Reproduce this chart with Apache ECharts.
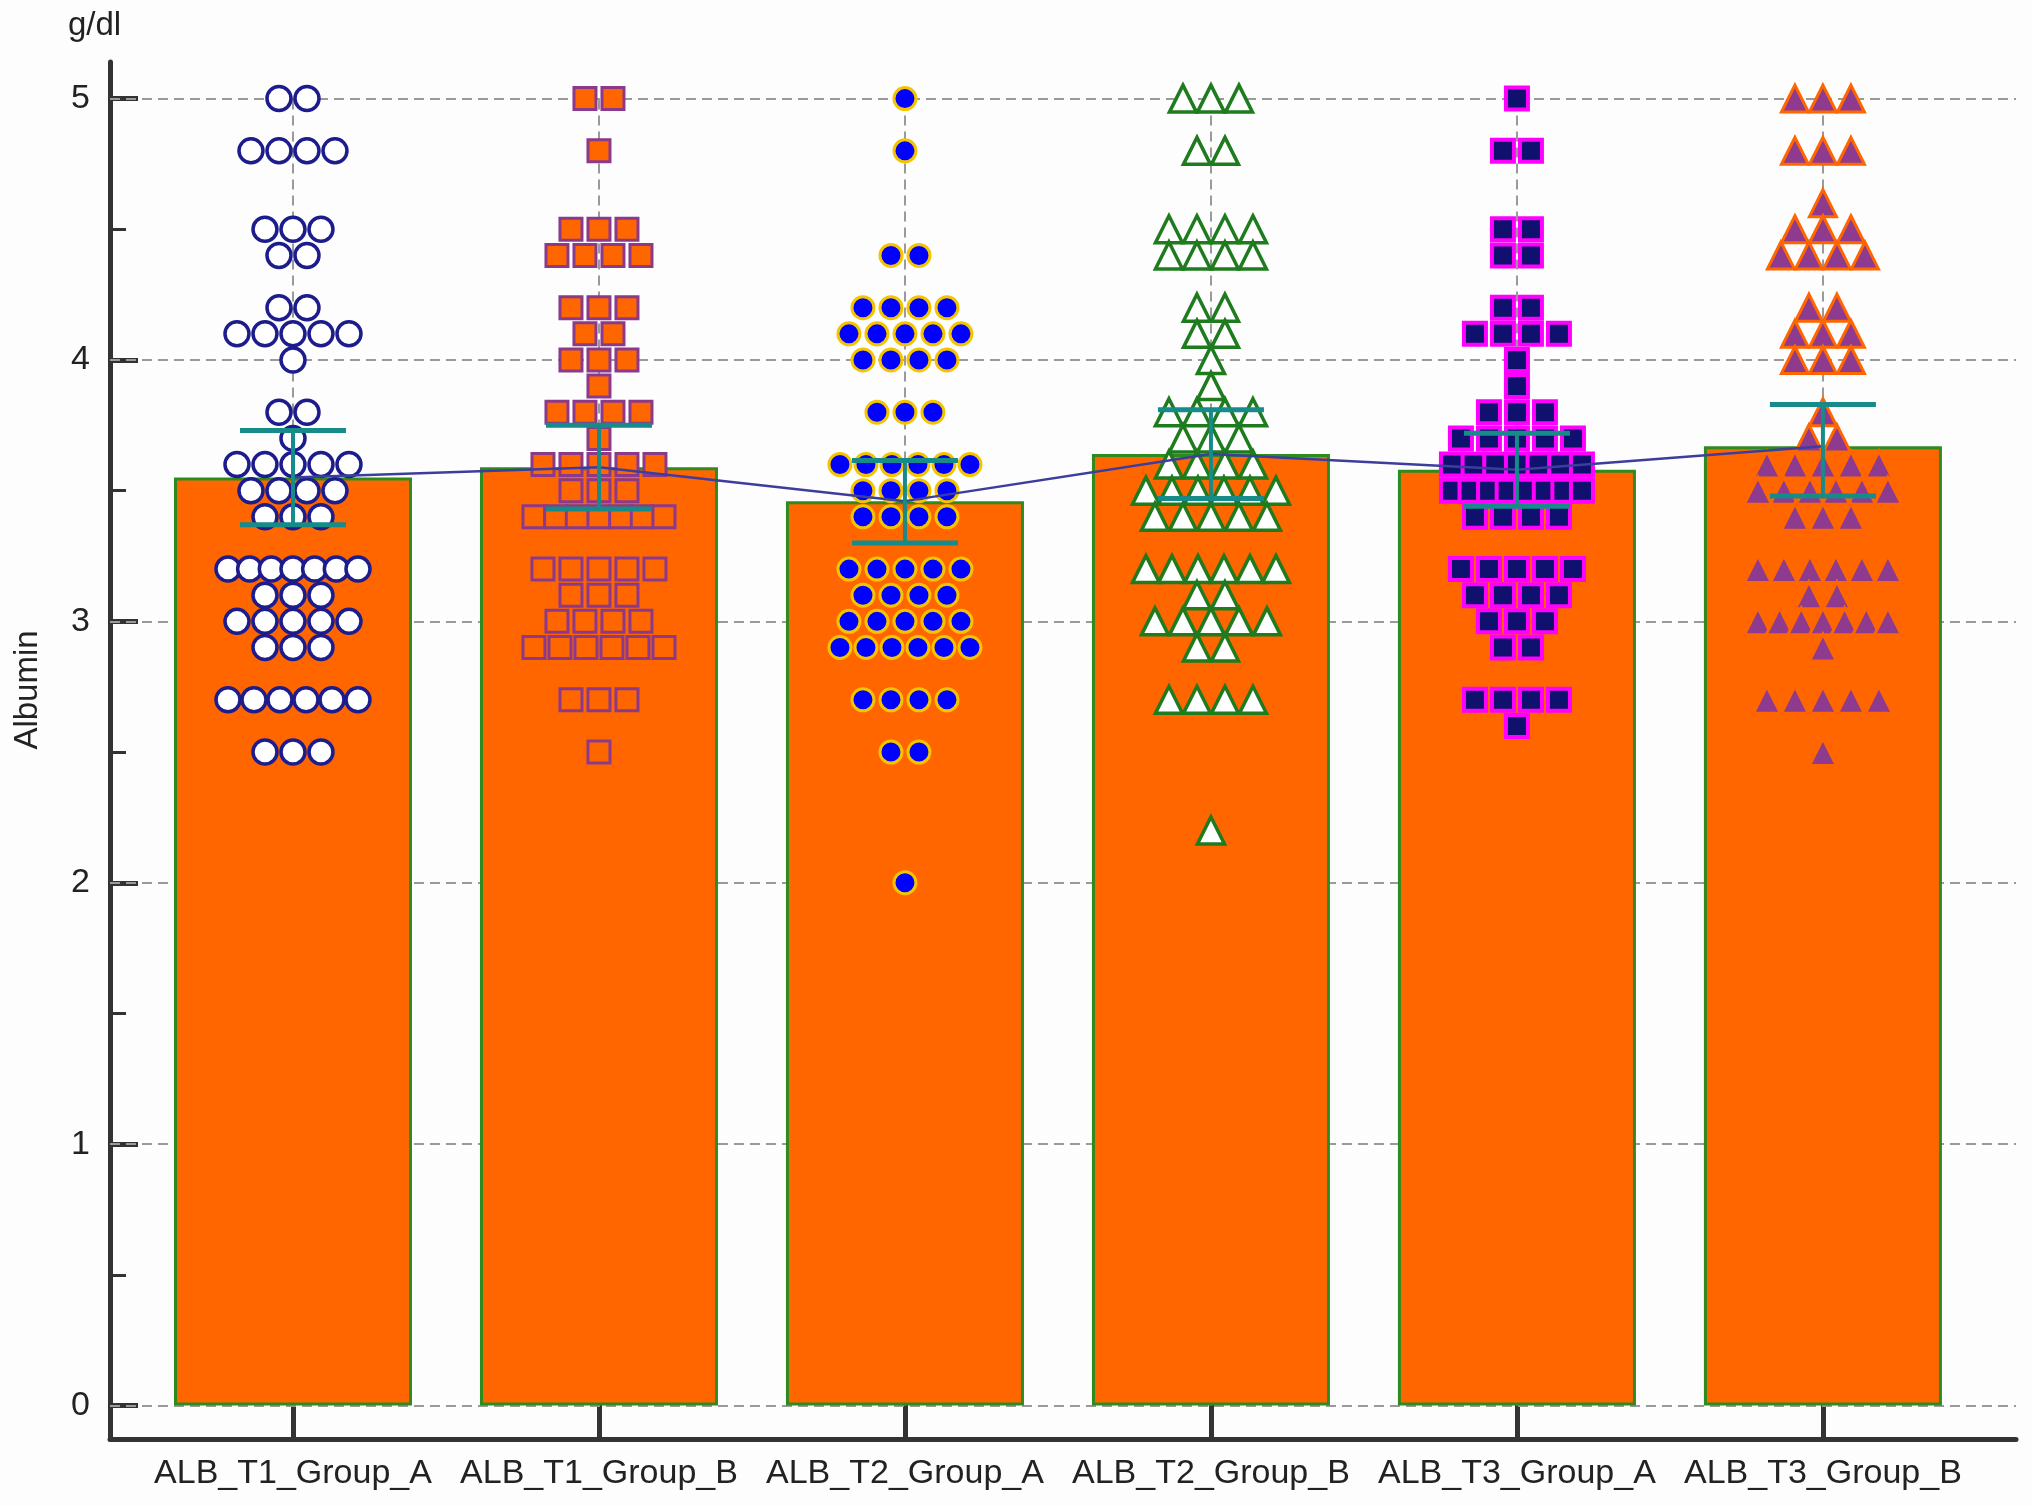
<!DOCTYPE html>
<html>
<head>
<meta charset="utf-8">
<title>Albumin</title>
<script src="https://cdn.jsdelivr.net/npm/echarts@6/dist/echarts.min.js"></script>
<style>
  html, body { margin: 0; padding: 0; background: #fdfdfd; }
  #main { width: 2032px; height: 1506px; }
</style>
</head>
<body>
<div id="main"></div>
<script>
// categories
var categories = ['ALB_T1_Group_A', 'ALB_T1_Group_B', 'ALB_T2_Group_A', 'ALB_T2_Group_B', 'ALB_T3_Group_A', 'ALB_T3_Group_B'];
// bar heights (mean) and error bar ends
var groupMeans = [3.55, 3.59, 3.46, 3.64, 3.58, 3.67];
var errLow  = [3.37, 3.43, 3.30, 3.47, 3.44, 3.48];
var errHigh = [3.73, 3.75, 3.615, 3.81, 3.72, 3.83];
// y ticks
var yTicks = [0, 1, 2, 3, 4, 5];
var yMinorTicks = [0.5, 1.5, 2.5, 3.5, 4.5];

// individual values: [value, count]
var t1GroupA = [[5.0,2],[4.8,4],[4.5,3],[4.4,2],[4.2,2],[4.1,5],[4.0,1],[3.8,2],[3.7,1],[3.6,5],[3.5,4],[3.4,3],[3.2,7],[3.1,3],[3.0,5],[2.9,3],[2.7,6],[2.5,3]];
var t1GroupB = [[5.0,2],[4.8,1],[4.5,3],[4.4,4],[4.2,3],[4.1,2],[4.0,3],[3.9,1],[3.8,4],[3.7,1],[3.6,5],[3.5,3],[3.4,7],[3.2,5],[3.1,3],[3.0,4],[2.9,6],[2.7,3],[2.5,1]];
var t2GroupA = [[5.0,1],[4.8,1],[4.4,2],[4.2,4],[4.1,5],[4.0,4],[3.8,3],[3.6,6],[3.5,4],[3.4,4],[3.2,5],[3.1,4],[3.0,5],[2.9,6],[2.7,4],[2.5,2],[2.0,1]];
var t2GroupB = [[5.0,3],[4.8,2],[4.5,4],[4.4,4],[4.2,2],[4.1,2],[4.0,1],[3.9,1],[3.8,4],[3.7,3],[3.6,4],[3.5,6],[3.4,5],[3.2,6],[3.1,2],[3.0,5],[2.9,2],[2.7,4],[2.2,1]];
var t3GroupA = [[5.0,1],[4.8,2],[4.5,2],[4.4,2],[4.2,2],[4.1,4],[4.0,1],[3.9,1],[3.8,3],[3.7,5],[3.6,7],[3.5,8],[3.4,4],[3.2,5],[3.1,4],[3.0,3],[2.9,2],[2.7,4],[2.6,1]];
var t3GroupB = [[5.0,3],[4.8,3],[4.6,1],[4.5,3],[4.4,4],[4.2,2],[4.1,3],[4.0,3],[3.8,1],[3.7,2],[3.6,5],[3.5,6],[3.4,3],[3.2,6],[3.1,2],[3.0,7],[2.9,1],[2.7,5],[2.5,1]];

var fontFamily = '"Liberation Sans", Arial, sans-serif';
var gridLeft = 110, gridRight = 16, gridTop = 62, gridBottom = 67;
var xMin = -0.598, xMax = 5.631;
var pxPerUnit = (2032 - gridLeft - gridRight) / (xMax - xMin);

//把每一行的点左右排开
function swarm(rows, idx) {
    var pts = [];
    rows.forEach(function (r) {
        var n = r[1];
        var gap = n > 1 ? Math.min(28, 130 / (n - 1)) : 0;
        for (var j = 0; j < n; j++) {
            pts.push([idx + (j - (n - 1) / 2) * gap / pxPerUnit, r[0]]);
        }
    });
    return pts;
}

var myChart = echarts.init(document.getElementById('main'));

var dotStyles = [
    {symbol: 'circle',   size: 24, color: '#ffffff', border: '#1c1c8c', bw: 3.5},
    {symbol: 'rect',     size: 22, color: '#ff6600', border: '#8b3a8b', bw: 3},
    {symbol: 'circle',   size: 22, color: '#0000ff', border: '#f5c400', bw: 3},
    {symbol: 'triangle', size: 27, color: '#ffffff', border: '#1e7b1e', bw: 3.5},
    {symbol: 'rect',     size: 22, color: '#10106e', border: '#ff00ff', bw: 4},
    {symbol: 'triangle', size: 27, color: '#8e3a8e', border: '#ff6600', bw: 3}
];
var groups = [t1GroupA, t1GroupB, t2GroupA, t2GroupB, t3GroupA, t3GroupB];

var dotSeries = groups.map(function (rows, i) {
    var s = dotStyles[i];
    return {
        type: 'scatter',
        name: categories[i],
        z: 3,
        symbol: s.symbol,
        symbolSize: s.size,
        itemStyle: {color: s.color, borderColor: s.border, borderWidth: s.bw, opacity: 1},
        data: swarm(rows, i)
    };
});

var gridLineData = yTicks.map(function (v) { return {yAxis: v}; });
categories.forEach(function (c, i) {
    gridLineData.push([{coord: [i, 0]}, {coord: [i, 5]}]);
});

var option = {
    backgroundColor: '#fdfdfd',
    animation: false,
    textStyle: {fontFamily: fontFamily},
    grid: {left: gridLeft, right: gridRight, top: gridTop, bottom: gridBottom},
    graphic: [
        {type: 'text', left: 68, top: 9, style: {text: 'g/dl', font: '33px ' + fontFamily, fill: '#222'}},
        {type: 'text', x: 28, y: 690, rotation: Math.PI / 2,
            style: {text: 'Albumin', font: '33px ' + fontFamily, fill: '#222', align: 'center', verticalAlign: 'middle'}}
    ],
    xAxis: {
        type: 'value',
        min: xMin,
        max: xMax,
        splitLine: {show: false},
        axisLine: {onZero: false, lineStyle: {color: '#333', width: 5}},
        axisTick: {inside: true, length: 34, customValues: [0, 1, 2, 3, 4, 5], lineStyle: {color: '#333', width: 5}},
        axisLabel: {
            customValues: [0, 1, 2, 3, 4, 5],
            margin: 18,
            fontSize: 34,
            color: '#222',
            fontFamily: fontFamily,
            formatter: function (v) { return categories[Math.round(v)]; }
        }
    },
    yAxis: [
        {
            type: 'value',
            min: -0.128,
            max: 5.14,
            splitLine: {show: false},
            axisLine: {show: true, onZero: false, lineStyle: {color: '#333', width: 5}},
            axisTick: {inside: true, length: 28, customValues: yTicks, lineStyle: {color: '#333', width: 5}},
            axisLabel: {customValues: yTicks, margin: 20, fontSize: 34, color: '#222', fontFamily: fontFamily}
        },
        {
            type: 'value',
            min: -0.128,
            max: 5.14,
            position: 'left',
            offset: 0,
            splitLine: {show: false},
            axisLine: {show: false, onZero: false},
            axisTick: {show: true, inside: true, length: 16, customValues: yMinorTicks, lineStyle: {color: '#333', width: 3}},
            axisLabel: {show: false}
        }
    ],
    series: [
        {
            type: 'bar',
            name: 'mean',
            z: 2,
            barWidth: 238,
            itemStyle: {color: '#ff6600', borderColor: '#2e8b1e', borderWidth: 3},
            data: groupMeans.map(function (v, i) { return [i, v]; }),
            markLine: {
                silent: true,
                z: 1,
                symbol: 'none',
                label: {show: false},
                lineStyle: {type: [10, 6], color: '#9a9a9a', width: 2},
                data: gridLineData
            }
        }
    ].concat(dotSeries).concat([
        {
            type: 'line',
            name: 'meanLine',
            z: 4,
            symbol: 'none',
            lineStyle: {color: '#3d3d9e', width: 2.5},
            data: groupMeans.map(function (v, i) { return [i, v]; })
        },
        {
            type: 'custom',
            name: 'error',
            z: 5,
            renderItem: function (params, api) {
                var x = api.value(0);
                var pLo = api.coord([x, api.value(1)]);
                var pHi = api.coord([x, api.value(2)]);
                var hw = 53;
                var st = {stroke: '#178a8a', lineWidth: 5};
                return {
                    type: 'group',
                    children: [
                        {type: 'line', shape: {x1: pLo[0], y1: pLo[1], x2: pHi[0], y2: pHi[1]}, style: {stroke: '#178a8a', lineWidth: 4}},
                        {type: 'line', shape: {x1: pHi[0] - hw, y1: pHi[1], x2: pHi[0] + hw, y2: pHi[1]}, style: st},
                        {type: 'line', shape: {x1: pLo[0] - hw, y1: pLo[1], x2: pLo[0] + hw, y2: pLo[1]}, style: st}
                    ]
                };
            },
            encode: {x: 0, y: [1, 2]},
            data: errLow.map(function (v, i) { return [i, v, errHigh[i]]; })
        }
    ])
};

myChart.setOption(option);
</script>
</body>
</html>
